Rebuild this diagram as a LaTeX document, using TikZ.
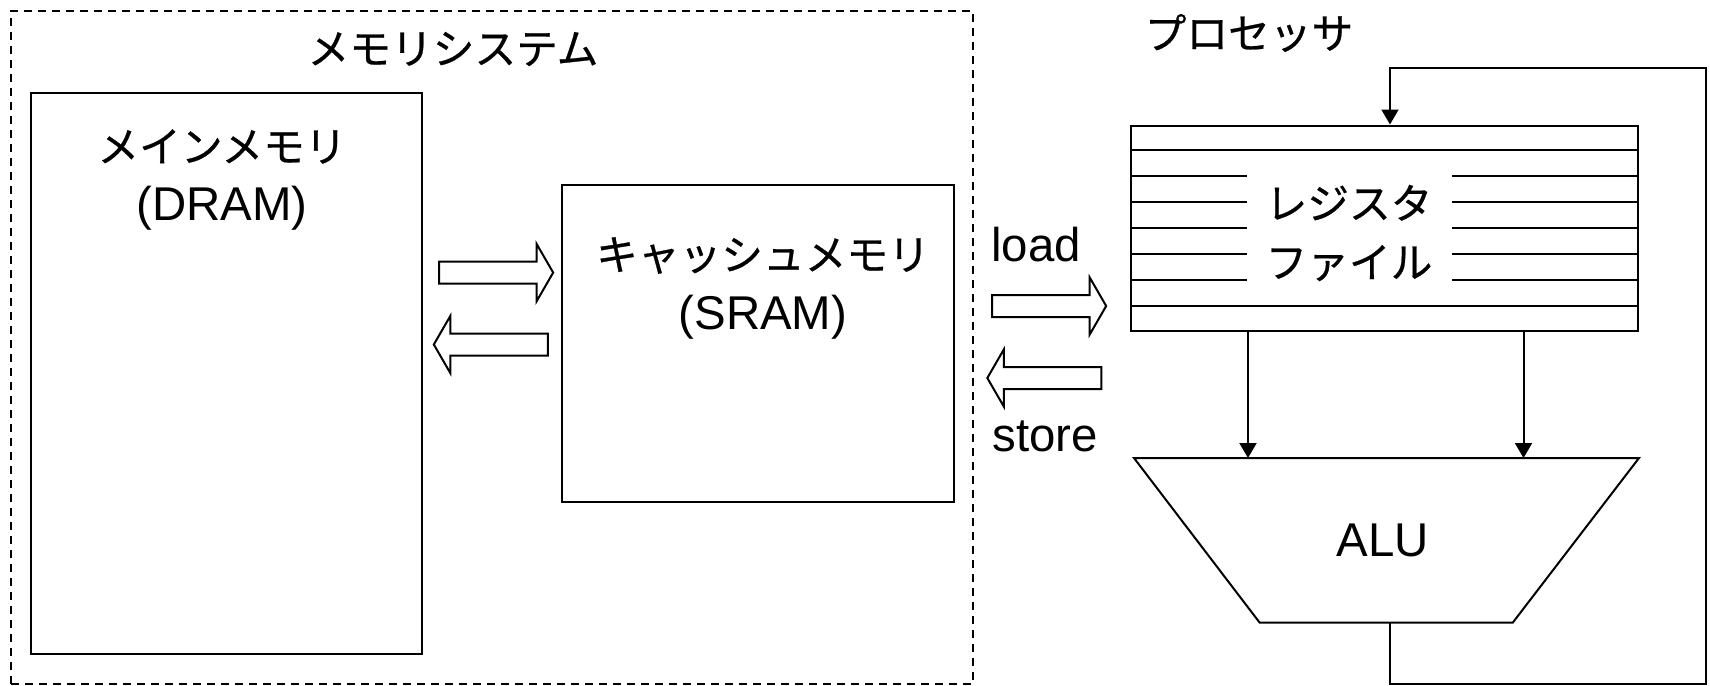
\documentclass[tikz,border=0pt]{standalone}
\usepackage{fontspec}
\setmainfont{Liberation Sans}
\newfontfamily\jp{Noto Sans CJK JP}[Scale=0.88,FakeBold=0.6]
\usepackage{tikz}
\usetikzlibrary{positioning,calc,fit,shapes.arrows,arrows.meta}

\tikzset{
  memBox/.style={draw,rectangle,inner sep=0pt},
  groupBox/.style={draw,dash pattern=on 4pt off 3pt,line width=0.7pt,inner sep=0pt},
  bigLabel/.style={font=\fontsize{23.7}{29.5}\selectfont,align=center,inner sep=0pt},
  fatRight/.style={draw,single arrow,single arrow tip angle=120,single arrow head extend=8.75pt,
    minimum height=57pt,inner xsep=0pt,inner ysep=5pt},
  fatLeft/.style={fatRight,shape border rotate=180},
  wire/.style={-{Triangle[length=7.5pt,width=8.5pt]}}
}

\begin{document}
\begin{tikzpicture}[x=0.5pt,y=-0.5pt,line width=1pt]
                \useasboundingbox (0,0) rectangle (1710,686);
                % Memory system (dashed group)
                \node[groupBox,fit={(11,11) (973,684)}] (memsys) {};
                \node[bigLabel] (memsysTitle) at (453,49) {\jp メモリシステム};
                % Main memory - DRAM
                \node[memBox,minimum width=195.75pt,minimum height=280.65pt] (dram) at (226.25,373.35) {};
                \node[bigLabel] (dramText) at (222,180) {{\jp メインメモリ}\\(DRAM)};
                % Cache memory - SRAM
                \node[memBox,minimum width=196.3pt,minimum height=158.15pt] (sram) at (758,343.5) {};
                \node[bigLabel] (sramText) at (763,288) {{\jp キャッシュメモリ}\\(SRAM)};
                % Transfers DRAM <-> SRAM
                \node[fatRight] (toCache) at (493,272.6) {};
                \node[fatLeft] (toMain) at (494,344.5) {};
                % Transfers SRAM <-> registers
                \node[fatRight] (loadArrow) at (1046,306) {};
                \node[fatLeft] (storeArrow) at (1047.5,378) {};
                \node[bigLabel] (loadText) at (1036,245) {load};
                \node[bigLabel] (storeText) at (1045,436) {store};
                % Processor - register file
                \node[bigLabel] (cpuTitle) at (1249,33) {\jp プロセッサ};
                \node[memBox,minimum width=253.5pt,minimum height=102.5pt] (regs) at (1384.5,228) {};
                \foreach \k in {1,7}
                  \draw ($(regs.north west)!\k/8!(regs.south west)$) -- ($(regs.north east)!\k/8!(regs.south east)$);
                \foreach \k in {2,...,6} {
                  \draw ($(regs.north west)!\k/8!(regs.south west)$) -- ++(58.3pt,0);
                  \draw ($(regs.north east)!\k/8!(regs.south east)$) -- ++(-93.75pt,0);
                }
                \node[bigLabel] (regsText) at (1349,233) {\jp レジスタ\\\jp ファイル};
                % Processor - ALU
                \coordinate (aluTL) at (1134,458);
                \coordinate (aluTR) at (1639,458);
                \coordinate (aluBR) at (1512.7,622.7);
                \coordinate (aluBL) at (1259.7,622.7);
                \draw (aluTL) -- (aluTR) -- (aluBR) -- (aluBL) -- cycle;
                \node[bigLabel] (alu) at (1383,540) {ALU};
                \coordinate (aluOut) at (1390,622.7);
                % Operands and write back
                \draw[wire] ([xshift=-68.25pt]regs.south) -- ([xshift=-68.25pt]regs.south |- aluTL);
                \draw[wire] ([xshift=69.5pt]regs.south) -- ([xshift=69.5pt]regs.south |- aluTL);
                \draw[wire] (aluOut) -- ++(0,61) -| (1706,67.6) -| ([xshift=2.75pt]regs.north);
            \end{tikzpicture}
\end{document}
